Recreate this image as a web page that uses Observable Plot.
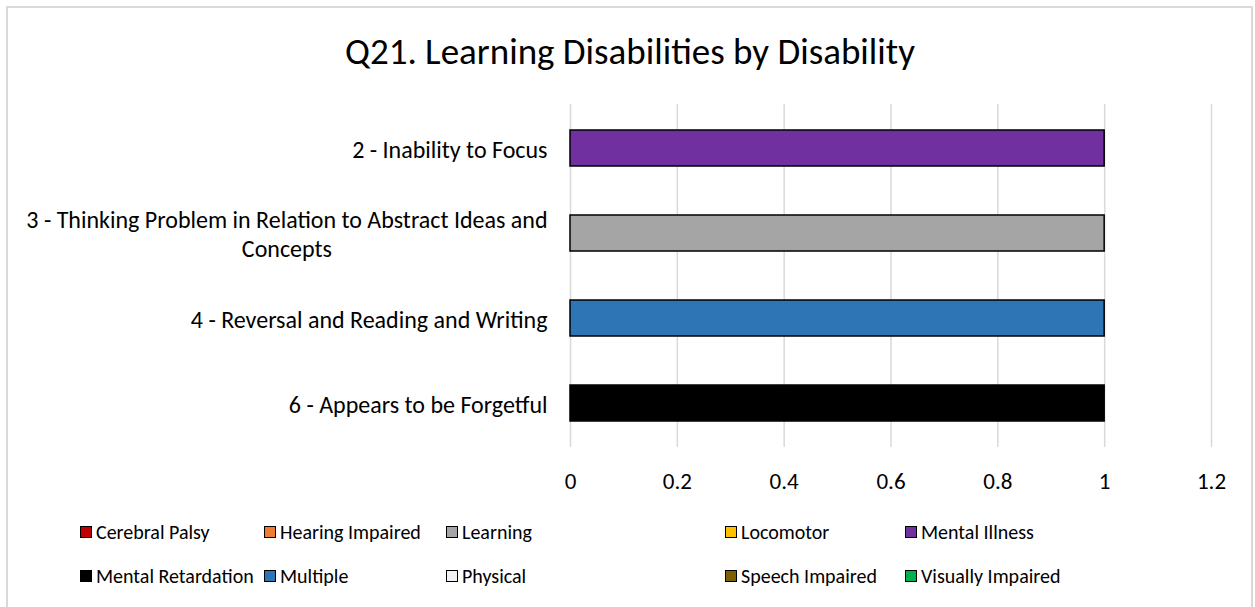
<!DOCTYPE html>
<html>
<head>
<meta charset="utf-8">
<script src="https://cdn.jsdelivr.net/npm/d3@7"></script>
<script src="https://cdn.jsdelivr.net/npm/@observablehq/plot@0.6"></script>
<style>
  html, body { margin: 0; padding: 0; background: #fff; }
  body { font-family: Carlito, Calibri, Lato, sans-serif; color: #000; }
  #wrap { position: relative; width: 1255px; height: 607px; overflow: hidden; }
  #frame { position: absolute; left: 6px; top: 6px; width: 1247px; height: 640px; border: 2px solid #d9d9d9; box-sizing: border-box; }
  #title { position: absolute; left: 0; width: 1260px; top: 30px; text-align: center; font-size: 37px; line-height: 44px; }
  #chart { position: absolute; left: 0; top: 80px; }
  #legend { position: absolute; left: 80px; top: 519px; display: grid;
            grid-template-columns: 184px 182px 279px 180px 240px; grid-auto-rows: 44px; }
  .item { display: flex; align-items: center; font-size: 20px; height: 26px; white-space: nowrap; }
  .sw { width: 10px; height: 10px; border: 1.5px solid #000; margin-right: 4px; flex: none; }
</style>
</head>
<body>
<div id="wrap">
  <div id="frame"></div>
  <div id="title">Q21. Learning Disabilities by Disability</div>
  <div id="chart"></div>
  <div id="legend"></div>
</div>
<script>
// ---- data ----
const categories = [
  "2 - Inability to Focus",
  "3 - Thinking Problem in Relation to Abstract Ideas and Concepts",
  "4 - Reversal and Reading and Writing",
  "6 - Appears to be Forgetful"
];
const categoryLabels = [
  "2 - Inability to Focus",
  "3 - Thinking Problem in Relation to Abstract Ideas and\nConcepts",
  "4 - Reversal and Reading and Writing",
  "6 - Appears to be Forgetful"
];
const values = [1, 1, 1, 1];
const barDisability = ["Mental Illness", "Learning", "Multiple", "Mental Retardation"];
const disabilities = [
  "Cerebral Palsy", "Hearing Impaired", "Learning", "Locomotor", "Mental Illness",
  "Mental Retardation", "Multiple", "Physical", "Speech Impaired", "Visually Impaired"
];
const disabilityColors = [
  "#c00000", "#ed7d31", "#a5a5a5", "#ffc000", "#7030a0",
  "#000000", "#2e75b6", "#f2f2f2", "#7f6000", "#00b050"
];
const xTicks = [0, 0.2, 0.4, 0.6, 0.8, 1, 1.2];

const rows = categories.map((c, i) => ({category: c, value: values[i], disability: barDisability[i]}));
const labelOf = new Map(categories.map((c, i) => [c, categoryLabels[i]]));

const chart = Plot.plot({
  width: 1255,
  height: 420,
  marginLeft: 570,
  marginRight: 44,
  marginTop: 24,
  marginBottom: 53,
  style: {fontFamily: "Carlito, Calibri, Lato, sans-serif", fontSize: "20px", color: "#000", background: "transparent"},
  x: {domain: [0, 1.2], ticks: xTicks},
  y: {domain: categories, paddingInner: 0.58, paddingOuter: 0.29},
  color: {domain: disabilities, range: disabilityColors},
  marks: [
    Plot.gridX(xTicks, {stroke: "#d9d9d9", strokeOpacity: 1, strokeWidth: 1.5}),
    Plot.barX(rows, {x: "value", y: "category", fill: "disability", stroke: "#000", strokeWidth: 1.5}),
    Plot.axisX({ticks: xTicks, tickSize: 0, tickPadding: 25, label: null, tickFormat: d => String(d), fontSize: "23px"}),
    Plot.axisY({tickSize: 0, tickPadding: 23, label: null, tickFormat: d => labelOf.get(d), fontSize: "24px", lineHeight: 1.17})
  ]
});
document.getElementById("chart").appendChild(chart);

// center wrapped lines of multi-line y labels (as in the original)
chart.querySelectorAll("g[aria-label='y-axis tick label'] text").forEach(t => {
  const spans = t.querySelectorAll("tspan");
  if (spans.length < 2) return;
  const b0 = t.getBBox();
  t.setAttribute("text-anchor", "middle");
  const b1 = t.getBBox();
  const shift = (b0.x + b0.width / 2) - (b1.x + b1.width / 2);
  const tr = t.getAttribute("transform") || "";
  t.setAttribute("transform", tr + ` translate(${shift},0)`);
});

// legend
const legend = document.getElementById("legend");
disabilities.forEach((d, i) => {
  const it = document.createElement("div");
  it.className = "item";
  const sw = document.createElement("span");
  sw.className = "sw";
  sw.style.background = disabilityColors[i];
  it.appendChild(sw);
  it.appendChild(document.createTextNode(d));
  legend.appendChild(it);
});
</script>
</body>
</html>
